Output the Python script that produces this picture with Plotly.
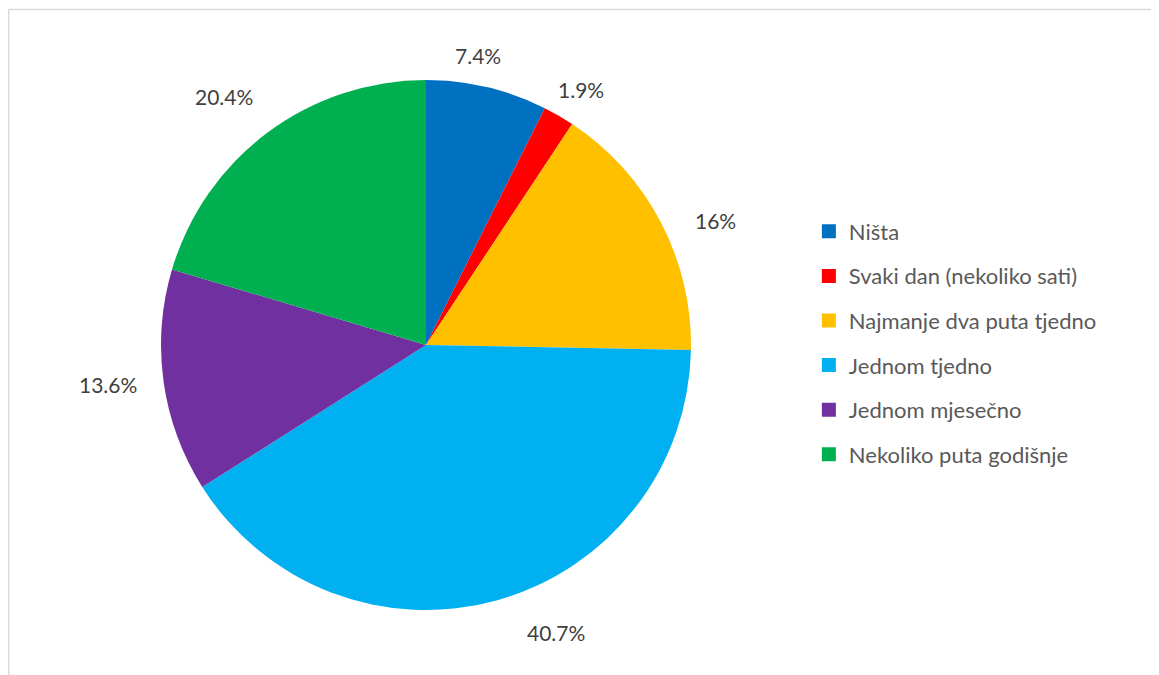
import math
import plotly.graph_objects as go

# ---- data ----
categories = ["Ništa", "Svaki dan (nekoliko sati)", "Najmanje dva puta tjedno",
              "Jednom tjedno", "Jednom mjesečno", "Nekoliko puta godišnje"]
values = [7.4, 1.9, 16, 40.7, 13.6, 20.4]
value_labels = ["7.4%", "1.9%", "16%", "40.7%", "13.6%", "20.4%"]

# ---- style ----
colors = ["#0070C0", "#FF0000", "#FFC000", "#00B0F0", "#7030A0", "#00B050"]
W, H = 1159, 675
CX, CY, R = 418, 337, 265            # pie centre / radius in pixels (figure coords)
# per-label (radial factor, angle nudge in degrees) to mimic Excel's best-fit placement
label_nudge = [(1.11, -3.1), (1.13, 1.2), (1.19, 4.4), (1.19, -8.7), (1.21, 0.8), (1.21, -2.4)]
FONT = "Lato"

fig = go.Figure()
fig.add_trace(go.Pie(
    labels=categories, values=values, sort=False, direction="clockwise", rotation=0,
    marker=dict(colors=colors, line=dict(width=0)),
    textinfo="none", hoverinfo="label+percent", showlegend=False,
    domain=dict(x=[(CX - R) / W, (CX + R) / W], y=[(H - CY - R) / H, (H - CY + R) / H]),
))

# legend entries (one group each so the rows can be spaced like the original)
for cat, col in zip(categories, colors):
    fig.add_trace(go.Scatter(
        x=[None], y=[None], mode="markers", name=cat, legendgroup=cat,
        marker=dict(symbol="square", size=14, color=col), showlegend=True,
        hoverinfo="skip"))

# data labels computed from the values
total = sum(values)
cum = 0.0
for v, lab, (k, dth) in zip(values, value_labels, label_nudge):
    mid = (cum + v / 2) / total * 360.0 + dth
    cum += v
    px = CX + R * k * math.sin(math.radians(mid))
    py = CY - R * k * math.cos(math.radians(mid))
    fig.add_annotation(x=px / W, y=1 - py / H, xref="paper", yref="paper",
                       text=lab, showarrow=False, xanchor="center", yanchor="middle",
                       font=dict(family=FONT, size=21, color="#404040"))

# chart-area border (left and top visible)
fig.add_shape(type="line", xref="paper", yref="paper", x0=0.6 / W, x1=0.6 / W, y0=0, y1=1 - 1.5 / H,
              line=dict(color="#D9D9D9", width=1.5))
fig.add_shape(type="line", xref="paper", yref="paper", x0=0.6 / W, x1=1, y0=1 - 1.5 / H, y1=1 - 1.5 / H,
              line=dict(color="#D9D9D9", width=1.5))

fig.update_layout(
    width=W, height=H, margin=dict(l=0, r=0, t=0, b=0),
    paper_bgcolor="white", plot_bgcolor="white",
    xaxis=dict(visible=False), yaxis=dict(visible=False),
    legend=dict(x=0.691, y=0.7, xanchor="left", yanchor="top",
                font=dict(family=FONT, size=22, color="#595959"),
                tracegroupgap=13, itemsizing="trace", bgcolor="rgba(0,0,0,0)"),
    font=dict(family=FONT),
)

fig.write_html("out.html")
